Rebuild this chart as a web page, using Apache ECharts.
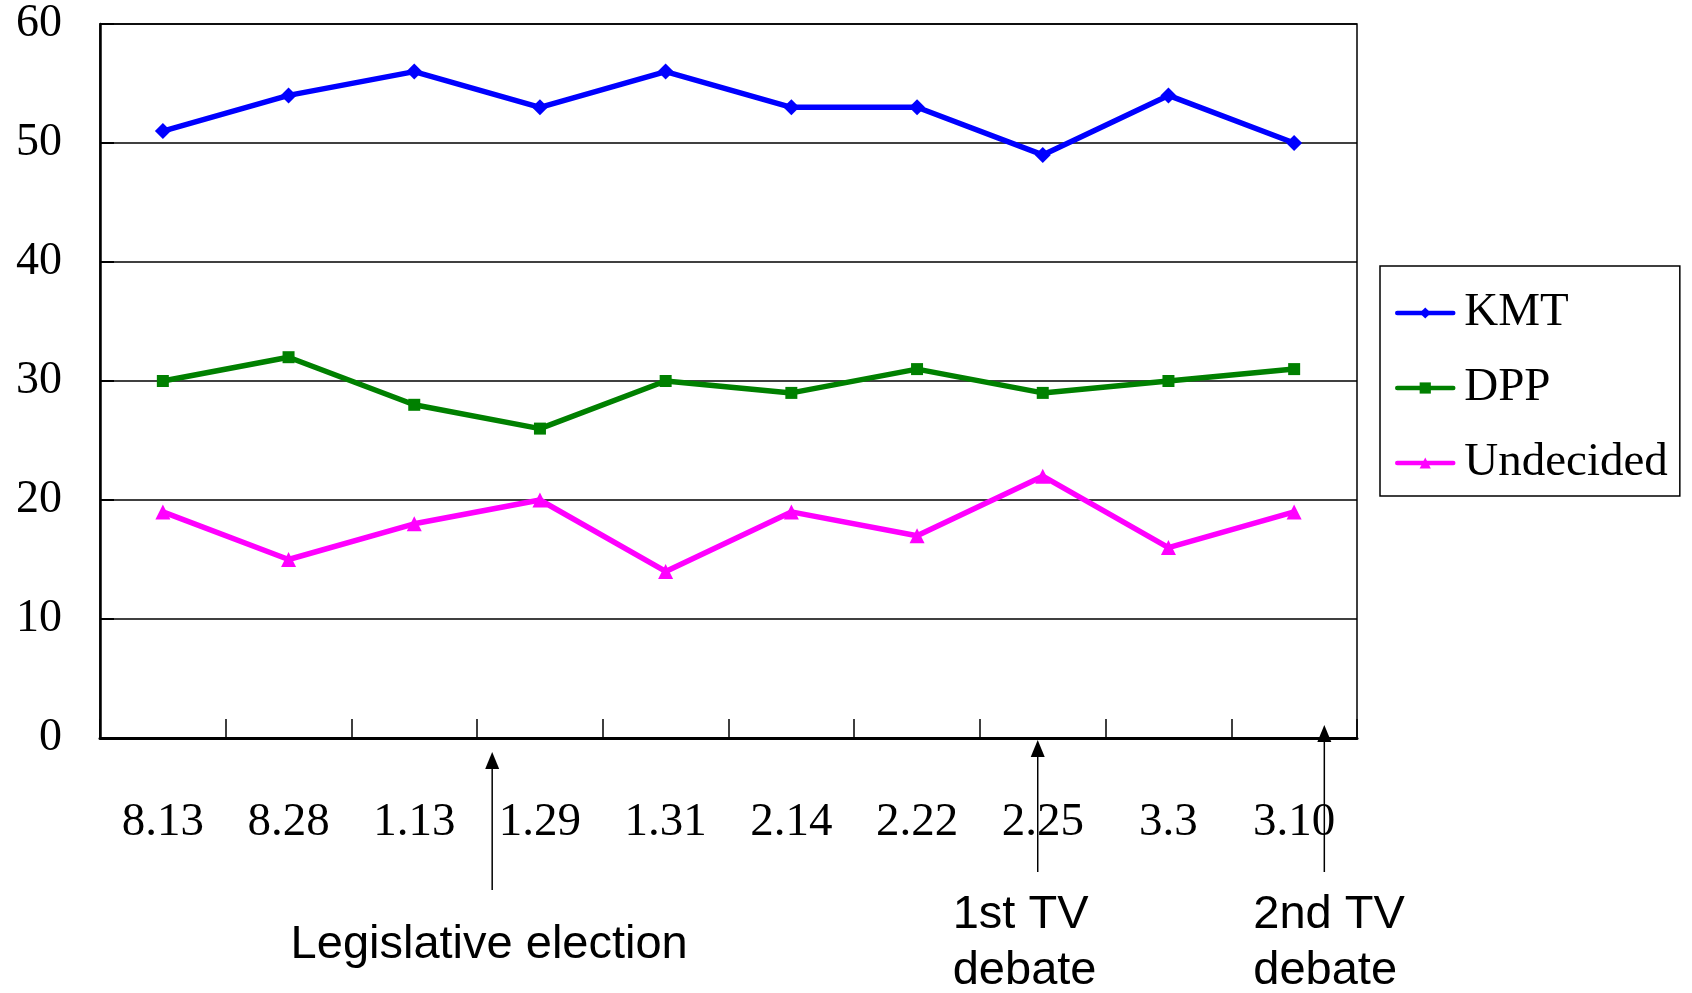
<!DOCTYPE html>
<html>
<head>
<meta charset="utf-8">
<script src="https://cdn.jsdelivr.net/npm/echarts@6/dist/echarts.min.js"></script>
<style>
html,body{margin:0;padding:0;background:#fff;}
#chart{width:1692px;height:993px;}
</style>
</head>
<body>
<div id="chart"></div>
<script>
// ---- data ----
const CATEGORIES = ['8.13', '8.28', '1.13', '1.29', '1.31', '2.14', '2.22', '2.25', '3.3', '3.10'];
const KMT = [51, 54, 56, 53, 56, 53, 53, 49, 54, 50];
const DPP = [30, 32, 28, 26, 30, 29, 31, 29, 30, 31];
const UNDECIDED = [19, 15, 18, 20, 14, 19, 17, 22, 16, 19];
const Y_TICKS = [0, 10, 20, 30, 40, 50, 60];
const EVENT_LABELS = ['Legislative election', '1st TV\ndebate', '2nd TV\ndebate'];
const EVENT_POSITIONS = [2.62, 6.96, 9.24]; // in category-index units

// ---- layout / style ----
const SERIF = 'Liberation Serif';
const SANS = 'Liberation Sans';
const EVENT_LAYOUT = [
  { tip: 14, bottom: 152, dx: -3, textTop: 179, align: 'center' },
  { tip: 2, bottom: 134, dx: -85, textTop: 149, align: 'left' },
  { tip: -13, bottom: 134, dx: -71, textTop: 149, align: 'left' }
];

const chart = echarts.init(document.getElementById('chart'), null, { renderer: 'canvas' });

const option = {
  backgroundColor: '#ffffff',
  animation: false,
  grid: {
    left: 100, right: 335, top: 24, bottom: 255,
    show: true, borderColor: '#000', borderWidth: 1.5, backgroundColor: 'transparent'
  },
  legend: {
    left: 1380, top: 266, orient: 'vertical',
    borderColor: '#000', borderWidth: 1.5,
    padding: [22, 12, 8, 15],
    itemWidth: 56, itemHeight: 14, itemGap: 25,
    lineStyle: { width: 4.5, cap: 'round' },
    textStyle: { fontFamily: SERIF, fontSize: 47, color: '#000', lineHeight: 50, padding: [0, 0, 0, 6] },
    data: ['KMT', 'DPP', 'Undecided']
  },
  xAxis: {
    type: 'category',
    data: CATEGORIES,
    boundaryGap: true,
    axisLine: { show: true, lineStyle: { color: '#000', width: 3 } },
    axisTick: { show: true, inside: true, length: 19, lineStyle: { color: '#000', width: 1.5 } },
    axisLabel: { fontFamily: SERIF, fontSize: 47, color: '#000', lineHeight: 48, margin: 61 },
    splitLine: { show: false }
  },
  yAxis: {
    type: 'value',
    min: Y_TICKS[0], max: Y_TICKS[Y_TICKS.length - 1], interval: Y_TICKS[1] - Y_TICKS[0],
    axisLine: { show: true, lineStyle: { color: '#000', width: 2.5 } },
    axisTick: { show: true, inside: true, length: 14, lineStyle: { color: '#000', width: 2 } },
    axisLabel: { fontFamily: SERIF, fontSize: 46, color: '#000', margin: 38 },
    splitLine: { show: true, lineStyle: { color: '#000', width: 1.5 } }
  },
  series: [
    {
      name: 'KMT', type: 'line', data: KMT,
      symbol: 'diamond', symbolSize: 16,
      lineStyle: { color: '#0000ff', width: 5.5 },
      itemStyle: { color: '#0000ff' }
    },
    {
      name: 'DPP', type: 'line', data: DPP,
      symbol: 'rect', symbolSize: 12,
      lineStyle: { color: '#008000', width: 5.5 },
      itemStyle: { color: '#008000' }
    },
    {
      name: 'Undecided', type: 'line', data: UNDECIDED,
      symbol: 'triangle', symbolSize: 15,
      lineStyle: { color: '#ff00ff', width: 5.5 },
      itemStyle: { color: '#ff00ff' }
    }
  ]
};
chart.setOption(option);

// ---- event annotations (arrows + text), positioned via the axis scale ----
const x0 = chart.convertToPixel({ xAxisIndex: 0 }, 0);
const x1 = chart.convertToPixel({ xAxisIndex: 0 }, 1);
const axisY = chart.convertToPixel({ yAxisIndex: 0 }, 0);
const graphics = [];
EVENT_POSITIONS.forEach((pos, i) => {
  const L = EVENT_LAYOUT[i];
  const x = x0 + (x1 - x0) * pos;
  const tipY = axisY + L.tip;
  const headH = 17, headW = 7;
  graphics.push({
    type: 'line', silent: true,
    shape: { x1: x, y1: axisY + L.bottom, x2: x, y2: tipY + headH - 2 },
    style: { stroke: '#000', lineWidth: 1.5 }
  });
  graphics.push({
    type: 'polygon', silent: true,
    shape: { points: [[x, tipY], [x - headW, tipY + headH], [x + headW, tipY + headH]] },
    style: { fill: '#000' }
  });
  graphics.push({
    type: 'text', silent: true,
    x: x + L.dx, y: axisY + L.textTop,
    style: {
      text: EVENT_LABELS[i], fill: '#000',
      font: '47px "' + SANS + '"', fontFamily: SANS, fontSize: 47,
      lineHeight: 56, align: L.align, verticalAlign: 'top'
    }
  });
});
chart.setOption({ graphic: graphics });
</script>
</body>
</html>
